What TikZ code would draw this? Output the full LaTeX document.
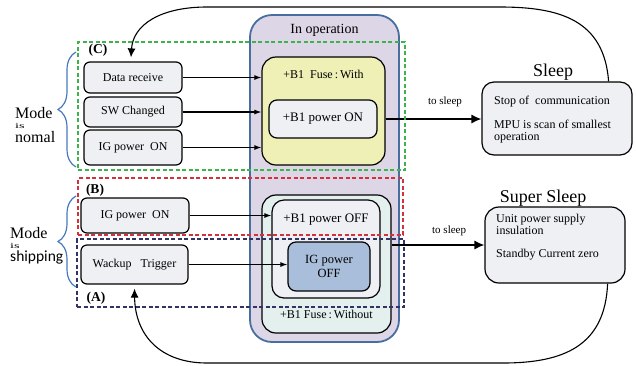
\documentclass[tikz,border=0pt]{standalone}
\usepackage{fontspec}
\setmainfont{Liberation Serif}
\newfontfamily\shipfont{Carlito}
\usepackage{graphicx}
\usepackage{tikz}
\usetikzlibrary{arrows.meta,decorations.pathreplacing,calc}
\definecolor{opfill}{RGB}{221,214,230}
\definecolor{opline}{RGB}{72,110,160}
\definecolor{withfill}{RGB}{238,240,182}
\definecolor{withoutfill}{RGB}{227,240,238}
\definecolor{boxgray}{RGB}{239,240,244}
\definecolor{igofffill}{RGB}{168,190,218}
\definecolor{dashgreen}{RGB}{60,180,75}
\definecolor{dashred}{RGB}{210,50,60}
\definecolor{dashnavy}{RGB}{50,50,100}
\definecolor{braceblue}{RGB}{70,120,190}
\tikzstyle{process} = [rectangle, rounded corners=6pt, draw=black, line width=1.2pt, fill=boxgray, text centered, inner sep=0pt, font=\fontsize{12}{13}\selectfont]
\tikzstyle{arrow} = [line width=1.1pt, -{Latex[length=7pt,width=5pt]}]
\tikzstyle{bigarrow} = [line width=1.2pt, -{Latex[length=10pt,width=9pt]}]
\tikzstyle{curvearrow} = [line width=1.1pt, -{Latex[length=9pt,width=8pt]}]
\tikzstyle{group} = [rectangle, line width=1.1pt, dash pattern=on 4pt off 2.5pt, inner sep=0pt]
\tikzstyle{brace} = [decorate, decoration={brace, amplitude=18pt}, draw=braceblue, line width=1.2pt]
\newcommand{\flatis}{\scalebox{1.1}[0.6]{\fontsize{13}{13}\selectfont is}}

\begin{document}
\begin{tikzpicture}[x=1pt, y=-1pt]
    \useasboundingbox (0,0) rectangle (636,365);

    \node (operation) [process, rounded corners=22pt, draw=opline, line width=1.8pt, fill=opfill, minimum width=149pt, text height=18pt, text depth=309pt, font=\fontsize{14}{16}\selectfont] at (324.5,178.5) {In operation};

    % fuse with
    \node (fusewith) [process, rounded corners=14pt, fill=withfill, minimum width=123pt, text height=21pt, text depth=87pt] at (323.5,111) {+B1~ Fuse\,:\,With};
    \node (bpowon) [process, rounded corners=8pt, minimum width=108pt, minimum height=38pt, font=\fontsize{13}{14}\selectfont] at (323,119) {+B1 power ON};

    % fuse without
    \node (fusewithout) [process, rounded corners=14pt, fill=withoutfill, minimum width=129pt, text height=123pt, text depth=15pt] at (326.5,264) {+B1 Fuse\,:\,Without};
    \node (bpowoff) [process, rounded corners=12pt, minimum width=108pt, text height=22pt, text depth=76pt, font=\fontsize{13}{14}\selectfont] at (326,249) {+B1 power OFF};
    \node (igpowoff) [process, rounded corners=8pt, fill=igofffill, minimum width=82pt, minimum height=49pt, align=center, font=\fontsize{12.5}{14}\selectfont] at (329,266.5) {IG power\\OFF};

    \node (datarecv) [process, minimum width=98pt, minimum height=31pt] at (133,77.5) {Data receive};
    \node (swchanged) [process, minimum width=98pt, minimum height=30pt] at (133,112) {SW Changed};
    \node (igonnorm) [process, minimum width=98pt, minimum height=35pt] at (133,147.5) {IG power~~ON};
    \node (igonship) [process, minimum width=108pt, minimum height=35pt] at (135,215.5) {IG power~~ON};
    \node (wakeup) [process, minimum width=107pt, minimum height=39pt] at (134.5,264.5) {Wackup~~ Trigger};

    \node (sleep) [process, rounded corners=12pt, minimum width=150pt, minimum height=73pt] at (557,118.5) {};
    \node (sleeptitle) [anchor=base, inner sep=0pt, font=\fontsize{18}{20}\selectfont] at (553,76) {Sleep};
    \node (sleeptext) [anchor=north west, align=left, inner sep=0pt, font=\fontsize{12}{12}\selectfont] at (494,96) {Stop of~ communication\\[12pt]MPU is scan of smallest\\operation};

    \node (supersleep) [process, rounded corners=14pt, minimum width=140pt, minimum height=76pt] at (555,245) {};
    \node (supertitle) [anchor=base, inner sep=0pt, font=\fontsize{18}{20}\selectfont] at (543,202) {Super Sleep};
    \node (supertext) [anchor=north west, align=left, inner sep=0pt, font=\fontsize{12}{12}\selectfont] at (496,214) {Unit power supply\\insulation\\[11pt]Standby Current zero};

    \draw[arrow] (datarecv.east) -- (datarecv -| fusewith.west);
    \draw[arrow] (swchanged.east) -- (swchanged -| fusewith.west);
    \draw[arrow] (igonnorm.east) -- (igonnorm -| fusewith.west);
    \draw[arrow] (igonship.east) -- (igonship -| bpowoff.west);
    \draw[arrow] (wakeup.east) -- (wakeup -| igpowoff.west);

    \draw[bigarrow] (bpowon -| fusewith.east) -- node[pos=0.62, above=12pt, inner sep=0pt, font=\fontsize{11}{12}\selectfont] {to sleep} (bpowon -| sleep.west);
    \draw[bigarrow] (supersleep -| fusewithout.east) -- node[pos=0.62, above=9pt, inner sep=0pt, font=\fontsize{11}{12}\selectfont] {to sleep} (supersleep.west);

    % back to normal / shipping
    \draw[curvearrow] ([xshift=-24pt]sleep.north east) .. controls (604,20) and (560,7) .. (500,7) -- (207,7) .. controls (160,7) and (133,25) .. ([xshift=-2pt,yshift=4pt]datarecv.north);
    \draw[curvearrow] ([xshift=-18pt]supersleep.south east) .. controls (605,345) and (565,363) .. (503,363) -- (207,363) .. controls (160,363) and (135,335) .. ([yshift=-4pt]wakeup.south);

    \node (groupC) [group, draw=dashgreen, minimum width=327pt, minimum height=128pt] at (241.5,106) {};
    \node (groupB) [group, draw=dashred, minimum width=325pt, minimum height=57pt] at (240.5,206.5) {};
    \node (groupA) [group, draw=dashnavy, minimum width=327pt, minimum height=68pt] at (240.5,273) {};
    \node (labelC) [inner sep=0pt, font=\bfseries\fontsize{13.5}{14}\selectfont] at (98,50) {(C)};
    \node (labelB) [inner sep=0pt, font=\bfseries\fontsize{13.5}{14}\selectfont] at (95,190) {(B)};
    \node (labelA) [inner sep=0pt, font=\bfseries\fontsize{13.5}{14}\selectfont] at (96,298) {(A)};

    \coordinate (normbot) at (76,167);
    \coordinate (normtop) at (76,52);
    \coordinate (shipbot) at (76,287);
    \coordinate (shiptop) at (76,196);
    \draw[brace] (normbot) -- (normtop);
    \draw[brace] (shipbot) -- (shiptop);
    \node (modenormal) [anchor=north west, align=left, inner sep=0pt, font=\fontsize{16}{10}\selectfont] at (15,107) {Mode\\\flatis\\[2pt]nomal};
    \node (modeshipping) [anchor=north west, align=left, inner sep=0pt, font=\fontsize{16}{10}\selectfont] at (10,227) {Mode\\\flatis\\[1pt]{\shipfont\fontsize{15.5}{10}\selectfont shipping}};
\end{tikzpicture}
\end{document}
